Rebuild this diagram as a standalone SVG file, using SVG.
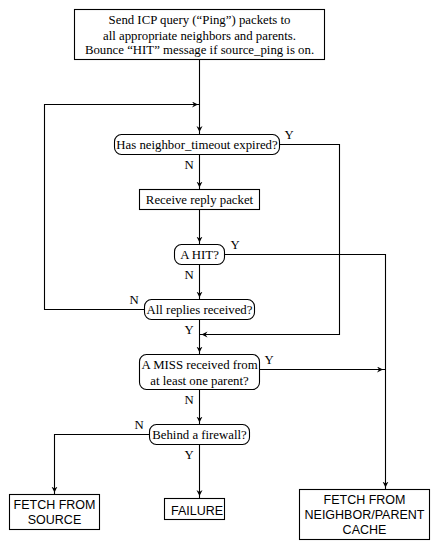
<svg xmlns="http://www.w3.org/2000/svg" width="441" height="551" viewBox="0 0 441 551">
<defs>
<style>
.box{fill:#fff;stroke:#000;stroke-width:1.1}
.t{font-family:"Liberation Serif",serif;font-size:12.8px;fill:#000;text-anchor:middle}
.s{font-family:"Liberation Sans",sans-serif;font-size:12.5px;fill:#000;text-anchor:middle}
.lbl{font-family:"Liberation Serif",serif;font-size:12.8px;fill:#000;text-anchor:middle}
.c{fill:none;stroke:#000;stroke-width:1.1}
</style>
<marker id="ah" markerUnits="userSpaceOnUse" markerWidth="10" markerHeight="8" refX="8" refY="3" orient="auto">
<path d="M0,0 L6,3 L0,6 L2,3 z" fill="#000"/>
</marker>
</defs>
<rect width="441" height="551" fill="#fff"/>
<g id="connectors">
<path class="c" d="M199.5,59.5 V134" marker-end="url(#ah)"/>
<path class="c" d="M144.5,309.5 H44.5 V104.5 H200" marker-end="url(#ah)"/>
<path class="c" d="M279.5,144.5 H339.5 V334.5 H199.5" marker-end="url(#ah)"/>
<path class="c" d="M199.5,154.5 V189.5" marker-end="url(#ah)"/>
<path class="c" d="M199.5,209.5 V244.5" marker-end="url(#ah)"/>
<path class="c" d="M224.5,254.5 H385.5 V489.5" marker-end="url(#ah)"/>
<path class="c" d="M199.5,264.5 V299.5" marker-end="url(#ah)"/>
<path class="c" d="M199.5,319.5 V354.5" marker-end="url(#ah)"/>
<path class="c" d="M259.5,369.5 H385" marker-end="url(#ah)"/>
<path class="c" d="M199.5,389.5 V424.5" marker-end="url(#ah)"/>
<path class="c" d="M149.5,434.5 H54.5 V494.5" marker-end="url(#ah)"/>
<path class="c" d="M199.5,444.5 V498" marker-end="url(#ah)"/>
<text class="lbl" x="289" y="139">Y</text>
<text class="lbl" x="189" y="169">N</text>
<text class="lbl" x="235" y="249">Y</text>
<text class="lbl" x="189" y="279">N</text>
<text class="lbl" x="134" y="304">N</text>
<text class="lbl" x="189" y="334">Y</text>
<text class="lbl" x="269" y="364">Y</text>
<text class="lbl" x="189" y="404">N</text>
<text class="lbl" x="139" y="429">N</text>
<text class="lbl" x="189" y="459">Y</text>
</g>
<g id="start">
<rect class="box" x="74.5" y="9.5" width="250" height="50"/>
<text class="t" x="199.5" y="24">Send ICP query (“Ping”) packets to</text>
<text class="t" x="199.5" y="39.5">all appropriate neighbors and parents.</text>
<text class="t" x="199.5" y="54">Bounce “HIT” message if source_ping is on.</text>
</g>
<g id="timeout">
<rect class="box" x="114.5" y="134.5" width="165" height="20" rx="7"/>
<text class="t" x="197" y="148.5">Has neighbor_timeout expired?</text>
</g>
<g id="receive">
<rect class="box" x="139.5" y="189.5" width="120" height="20"/>
<text class="t" x="199.5" y="204">Receive reply packet</text>
</g>
<g id="hit">
<rect class="box" x="174.5" y="244.5" width="50" height="20" rx="7"/>
<text class="t" x="199.5" y="258.5">A HIT?</text>
</g>
<g id="allreplies">
<rect class="box" x="144.5" y="299.5" width="110" height="20" rx="7"/>
<text class="t" x="199.5" y="313.5">All replies received?</text>
</g>
<g id="miss">
<rect class="box" x="139.5" y="354.5" width="120" height="35" rx="7"/>
<text class="t" x="199.5" y="369">A MISS received from</text>
<text class="t" x="199.5" y="385">at least one parent?</text>
</g>
<g id="firewall">
<rect class="box" x="149.5" y="424.5" width="100" height="20" rx="7"/>
<text class="t" x="199.5" y="438.5">Behind a firewall?</text>
</g>
<g id="source">
<rect class="box" x="9.5" y="494.5" width="90" height="35"/>
<text class="s" x="54.5" y="508.5">FETCH FROM</text>
<text class="s" x="54.5" y="524">SOURCE</text>
</g>
<g id="failure">
<rect class="box" x="164.5" y="498.5" width="60" height="21"/>
<text class="s" x="197" y="514.5">FAILURE</text>
</g>
<g id="neighbor">
<rect class="box" x="299.5" y="489.5" width="130" height="50"/>
<text class="s" x="364.5" y="503.5">FETCH FROM</text>
<text class="s" x="364.5" y="519">NEIGHBOR/PARENT</text>
<text class="s" x="364.5" y="534">CACHE</text>
</g>
</svg>
